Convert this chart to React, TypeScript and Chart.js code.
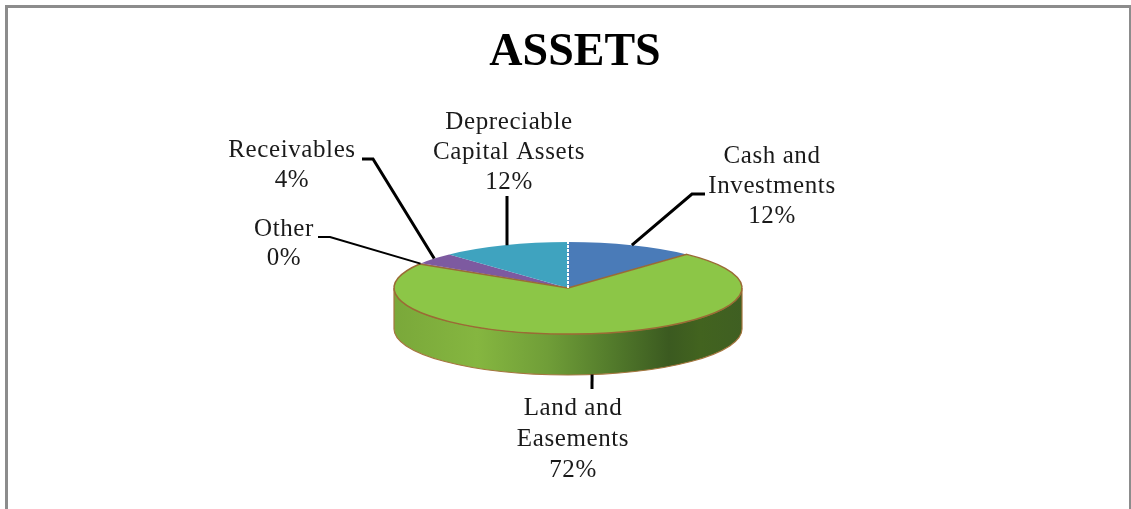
import React, { useEffect, useRef } from "react";
import { Chart, registerables } from "chart.js";

Chart.register(...registerables);

const categories = ["Cash and Investments", "Land and Easements", "Other", "Receivables", "Depreciable Capital Assets"];
const shares = [12, 72, 0.3, 4, 12];
const sliceLabels = [
  ["Cash and", "Investments", "12%"],
  ["Land and", "Easements", "72%"],
  ["Other", "0%"],
  ["Receivables", "4%"],
  ["Depreciable", "Capital Assets", "12%"],
];
const sliceColors = ["#4A7BB8", "#8CC647", "#8064A2", "#7D5AA0", "#3FA3BF"];
const title = "ASSETS";

const W = 1131;
const H = 509;
const TILT = 46 / 174;
const DEPTH = 41;
const labelBoxes = [
  { x: 772, y: 156, dy: 30 },
  { x: 573, y: 408, dy: 31 },
  { x: 284, y: 229, dy: 29 },
  { x: 292, y: 150, dy: 30 },
  { x: 509, y: 122, dy: 30 },
];
const leaderTails: [number, number][][] = [
  [[692, 194], [705, 194]],
  [[592, 389]],
  [[330, 237], [318, 237]],
  [[373, 159], [362, 159]],
  [[507, 196]],
];
const leaderWidths = [3, 3, 2, 3, 3];
const leaderNudge = [0, 0.7, 0, 0, 2.9];

const piePlugin = {
  id: "tiltedPie",
  beforeDatasetsDraw(chart: any) {
    const { ctx } = chart;
    const land = chart.getDatasetMeta(0).data[1];
    const { x, y, outerRadius: r } = land;
    const ry = r * TILT;
    const g = ctx.createLinearGradient(x - r, 0, x + r, 0);
    g.addColorStop(0, "#7AA83A");
    g.addColorStop(0.24, "#85B640");
    g.addColorStop(0.44, "#709E38");
    g.addColorStop(0.63, "#527A2B");
    g.addColorStop(0.79, "#3B5A20");
    g.addColorStop(0.88, "#42631F");
    g.addColorStop(1, "#3F5F22");
    ctx.save();
    ctx.beginPath();
    ctx.ellipse(x, y, r, ry, 0, 0, Math.PI);
    ctx.lineTo(x - r, y + DEPTH);
    ctx.ellipse(x, y + DEPTH, r, ry, 0, Math.PI, 0, true);
    ctx.closePath();
    ctx.fillStyle = g;
    ctx.fill();
    ctx.strokeStyle = "#A5763F";
    ctx.lineWidth = 1.2;
    ctx.stroke();
    ctx.restore();

    ctx.save();
    ctx.translate(x, y);
    ctx.scale(1, TILT);
    ctx.translate(-x, -y);
  },
  afterDatasetsDraw(chart: any) {
    const { ctx } = chart;
    ctx.restore();
    const arcs = chart.getDatasetMeta(0).data;
    const { x, y, outerRadius: r } = arcs[1];
    const ry = r * TILT;
    const pt = (a: number) => [x + r * Math.cos(a), y + ry * Math.sin(a)];

    // slice edges
    ctx.save();
    ctx.strokeStyle = "#9A6B35";
    ctx.lineWidth = 1.5;
    ctx.beginPath();
    const s = pt(arcs[1].startAngle);
    ctx.moveTo(x, y);
    ctx.lineTo(s[0], s[1]);
    ctx.ellipse(x, y, r, ry, 0, arcs[1].startAngle, arcs[1].endAngle);
    ctx.lineTo(x, y);
    ctx.stroke();
    ctx.strokeStyle = "#FFFFFF";
    ctx.lineWidth = 2;
    ctx.setLineDash([3, 1]);
    ctx.beginPath();
    const top = pt(arcs[0].startAngle);
    ctx.moveTo(x, y);
    ctx.lineTo(top[0], top[1]);
    ctx.stroke();
    ctx.restore();

    // leader lines
    ctx.save();
    ctx.strokeStyle = "#000000";
    ctx.lineJoin = "miter";
    arcs.forEach((arc: any, i: number) => {
      const mid = (arc.startAngle + arc.endAngle) / 2;
      const p = pt(mid);
      const front = Math.sin(mid) > 0 ? DEPTH : 0;
      ctx.lineWidth = leaderWidths[i];
      ctx.beginPath();
      ctx.moveTo(p[0] + leaderNudge[i], p[1] + front);
      leaderTails[i].forEach(([lx, ly]) => ctx.lineTo(lx, ly));
      ctx.stroke();
    });
    ctx.restore();

    // text
    ctx.save();
    ctx.fillStyle = "#000000";
    ctx.textAlign = "center";
    ctx.textBaseline = "alphabetic";
    ctx.font = 'bold 46px "Liberation Serif"';
    ctx.fillText(title, 575, 65);
    ctx.textBaseline = "middle";
    ctx.fillStyle = "#1A1A1A";
    ctx.font = '25px "Liberation Serif"';
    (ctx as any).letterSpacing = "0.6px";
    sliceLabels.forEach((lines, i) => {
      const box = labelBoxes[i];
      lines.forEach((t, j) => ctx.fillText(t, box.x, box.y + j * box.dy));
    });
    ctx.restore();

    // frame
    ctx.save();
    ctx.strokeStyle = "#8C8C8C";
    ctx.lineWidth = 3;
    ctx.beginPath();
    ctx.moveTo(6.5, H);
    ctx.lineTo(6.5, 6.5);
    ctx.lineTo(W - 0.5, 6.5);
    ctx.lineTo(W - 0.5, H);
    ctx.stroke();
    ctx.restore();
  },
};

export default function App() {
  const ref = useRef<HTMLCanvasElement>(null);
  useEffect(() => {
    const chart = new Chart(ref.current as HTMLCanvasElement, {
      type: "pie",
      data: {
        labels: categories,
        datasets: [
          {
            data: shares,
            backgroundColor: sliceColors,
            borderWidth: 0,
            clip: false,
          } as any,
        ],
      },
      options: {
        responsive: false,
        animation: false,
        layout: { padding: { left: 394, right: 389, top: 114, bottom: 47 } },
        plugins: { legend: { display: false }, title: { display: false }, tooltip: { enabled: false } },
      },
      plugins: [piePlugin],
    });
    return () => chart.destroy();
  }, []);
  return (
    <div style={{ position: "fixed", left: 0, top: 0, width: W, height: H, background: "#FFFFFF" }}>
      <canvas ref={ref} width={W} height={H} style={{ display: "block" }} />
    </div>
  );
}
